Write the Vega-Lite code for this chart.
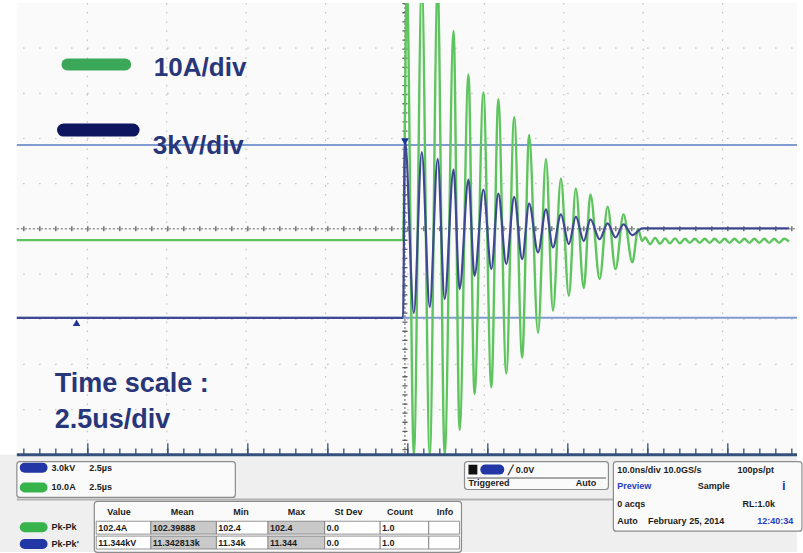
{
  "$schema": "https://vega.github.io/schema/vega-lite/v6.json",
  "width": 803,
  "height": 553,
  "autosize": {"type": "fit", "contains": "padding"},
  "padding": 0,
  "background": "#ffffff",
  "config": {"view": {"stroke": null}, "text": {"font": "Liberation Sans"}},
  "encoding": {
    "x": {"field": "t", "type": "quantitative", "scale": {"domain": [-12.75, 12.34375], "nice": false, "zero": false}, "axis": null},
    "y": {"field": "d", "type": "quantitative", "scale": {"domain": [-7.1538, 5], "nice": false, "zero": false}, "axis": null}
  },
  "layer": [
    {"data": {"values": [{"t": -12.22, "t2": 12.34375, "d": 5, "d2": -5}]},
     "mark": {"type": "rect", "color": "#fafafa"},
     "encoding": {"x2": {"field": "t2"}, "y2": {"field": "d2"}}},
    {"data": {"values": [{"t": -12.75, "t2": 12.34375, "d": -5, "d2": -7.1538}]},
     "mark": {"type": "rect", "color": "#efefef"},
     "encoding": {"x2": {"field": "t2"}, "y2": {"field": "d2"}}},
    {"data": {"values": [{"t": -10, "d": 5, "d2": -5}, {"t": -7.5, "d": 5, "d2": -5}, {"t": -5, "d": 5, "d2": -5}, {"t": -2.5, "d": 5, "d2": -5}, {"t": 2.5, "d": 5, "d2": -5}, {"t": 5, "d": 5, "d2": -5}, {"t": 7.5, "d": 5, "d2": -5}, {"t": 10, "d": 5, "d2": -5}]},
     "mark": {"type": "rule", "color": "#c2c2c2", "strokeWidth": 1.2, "strokeDash": [1.5, 7.6]},
     "encoding": {"y2": {"field": "d2"}}},
    {"data": {"values": [{"d": 4, "t": -12.22, "t2": 12.34375}, {"d": 3, "t": -12.22, "t2": 12.34375}, {"d": 2, "t": -12.22, "t2": 12.34375}, {"d": 1, "t": -12.22, "t2": 12.34375}, {"d": -1, "t": -12.22, "t2": 12.34375}, {"d": -2, "t": -12.22, "t2": 12.34375}, {"d": -3, "t": -12.22, "t2": 12.34375}, {"d": -4, "t": -12.22, "t2": 12.34375}]},
     "mark": {"type": "rule", "color": "#c2c2c2", "strokeWidth": 1.2, "strokeDash": [1.5, 14.5], "strokeDashOffset": 9.75},
     "encoding": {"x2": {"field": "t2"}}},
    {"data": {"values": [{"d": 0, "t": -12.22, "t2": 12.34375}]},
     "mark": {"type": "rule", "color": "#5e5e5e", "strokeWidth": 1, "strokeDash": [2, 2]},
     "encoding": {"x2": {"field": "t2"}}},
    {"data": {"values": [{"d": 0, "t": -12.22, "t2": 12.34375}]},
     "mark": {"type": "rule", "color": "#5e5e5e", "strokeWidth": 5, "strokeDash": [1.3, 14.7], "strokeDashOffset": 9.65},
     "encoding": {"x2": {"field": "t2"}}},
    {"data": {"values": [{"t": 0, "d": 5, "d2": -5}]},
     "mark": {"type": "rule", "color": "#5e5e5e", "strokeWidth": 1, "strokeDash": [2, 2]},
     "encoding": {"y2": {"field": "d2"}}},
    {"data": {"values": [{"t": 0, "d": 5, "d2": -5}]},
     "mark": {"type": "rule", "color": "#5e5e5e", "strokeWidth": 5, "strokeDash": [1.3, 7.8]},
     "encoding": {"y2": {"field": "d2"}}},
    {"data": {"values": [{"d": 1.857, "t": -12.22, "t2": 12.34375}, {"d": -1.967, "t": -12.22, "t2": 12.34375}]},
     "mark": {"type": "rule", "color": "#7f9bd0", "strokeWidth": 2},
     "encoding": {"x2": {"field": "t2"}}},
    {"data": {"values": [
      {"t": -12.22, "d": -0.25}, {"t": -0.06, "d": -0.25},
      {"t": 0.06, "d": 5.4}, {"t": 0.28, "d": -5}, {"t": 0.53, "d": 5.4}, {"t": 0.78, "d": -5},
      {"t": 1.03, "d": 5.4}, {"t": 1.25, "d": -5}, {"t": 1.53, "d": 4.38}, {"t": 1.72, "d": -4.45},
      {"t": 2.0, "d": 3.42}, {"t": 2.19, "d": -3.66}, {"t": 2.47, "d": 3.02}, {"t": 2.72, "d": -3.51},
      {"t": 2.94, "d": 2.87}, {"t": 3.19, "d": -3.2}, {"t": 3.44, "d": 2.47}, {"t": 3.69, "d": -2.85},
      {"t": 3.91, "d": 2.08}, {"t": 4.19, "d": -2.3}, {"t": 4.44, "d": 1.55}, {"t": 4.66, "d": -1.81},
      {"t": 4.91, "d": 1.11}, {"t": 5.16, "d": -1.48}, {"t": 5.38, "d": 0.89}, {"t": 5.63, "d": -1.31},
      {"t": 5.84, "d": 0.76}, {"t": 6.13, "d": -1.11}, {"t": 6.38, "d": 0.49}, {"t": 6.63, "d": -0.89},
      {"t": 6.88, "d": 0.32}, {"t": 7.16, "d": -0.74}, {"t": 7.34, "d": -0.01}, {"t": 7.47, "d": -0.27},
      {"t": 7.5625, "d": -0.19}, {"t": 7.71875, "d": -0.34}, {"t": 7.875, "d": -0.2}, {"t": 8.03125, "d": -0.33},
      {"t": 8.1875, "d": -0.21}, {"t": 8.34375, "d": -0.32}, {"t": 8.5, "d": -0.21}, {"t": 8.65625, "d": -0.32},
      {"t": 8.8125, "d": -0.22}, {"t": 8.96875, "d": -0.31}, {"t": 9.125, "d": -0.22}, {"t": 9.28125, "d": -0.31},
      {"t": 9.4375, "d": -0.22}, {"t": 9.59375, "d": -0.31}, {"t": 9.75, "d": -0.22}, {"t": 9.90625, "d": -0.31},
      {"t": 10.0625, "d": -0.22}, {"t": 10.21875, "d": -0.31}, {"t": 10.375, "d": -0.22}, {"t": 10.53125, "d": -0.31},
      {"t": 10.6875, "d": -0.22}, {"t": 10.84375, "d": -0.31}, {"t": 11.0, "d": -0.22}, {"t": 11.15625, "d": -0.31},
      {"t": 11.3125, "d": -0.22}, {"t": 11.46875, "d": -0.31}, {"t": 11.625, "d": -0.22}, {"t": 11.78125, "d": -0.31},
      {"t": 11.9375, "d": -0.22}, {"t": 12.09375, "d": -0.28}
     ]},
     "mark": {"type": "line", "interpolate": "monotone", "color": "#5ec45e", "strokeWidth": 2.4, "clip": true}},
    {"data": {"values": [
      {"t": -12.22, "d": -1.97}, {"t": -0.06, "d": -1.97}, {"t": 0.0, "d": 1.97},
      {"t": 0.28, "d": -1.86}, {"t": 0.53, "d": 1.7}, {"t": 0.78, "d": -1.73}, {"t": 1.03, "d": 1.55},
      {"t": 1.25, "d": -1.55}, {"t": 1.53, "d": 1.31}, {"t": 1.72, "d": -1.33}, {"t": 2.0, "d": 1.09},
      {"t": 2.19, "d": -1.04}, {"t": 2.47, "d": 0.87}, {"t": 2.72, "d": -0.89}, {"t": 2.94, "d": 0.78},
      {"t": 3.19, "d": -0.78}, {"t": 3.44, "d": 0.71}, {"t": 3.69, "d": -0.67}, {"t": 3.91, "d": 0.56},
      {"t": 4.19, "d": -0.52}, {"t": 4.44, "d": 0.43}, {"t": 4.66, "d": -0.41}, {"t": 4.91, "d": 0.32},
      {"t": 5.16, "d": -0.34}, {"t": 5.38, "d": 0.27}, {"t": 5.63, "d": -0.27}, {"t": 5.84, "d": 0.21},
      {"t": 6.13, "d": -0.23}, {"t": 6.38, "d": 0.12}, {"t": 6.63, "d": -0.19}, {"t": 6.88, "d": 0.1},
      {"t": 7.16, "d": -0.14}, {"t": 7.47, "d": 0.01}, {"t": 12.09375, "d": 0.01}
     ]},
     "mark": {"type": "line", "interpolate": "monotone", "color": "#3f4892", "strokeWidth": 2.2, "clip": true}},
    {"data": {"values": [{"d": -5, "t": -12.22, "t2": 12.34375}]},
     "mark": {"type": "rule", "color": "#34507c", "strokeWidth": 3},
     "encoding": {"x2": {"field": "t2"}}},
    {"data": {"values": [{"d": -4.93, "t": -12.22, "t2": 12.34375}]},
     "mark": {"type": "rule", "color": "#34507c", "strokeWidth": 6, "strokeDash": [1.3, 14.7], "strokeDashOffset": 9.65},
     "encoding": {"x2": {"field": "t2"}}},
    {"data": {"values": [{"d": -4.87, "t": -12.22, "t2": 12.34375}]},
     "mark": {"type": "rule", "color": "#34507c", "strokeWidth": 11, "strokeDash": [1.3, 78.7], "strokeDashOffset": 9.65},
     "encoding": {"x2": {"field": "t2"}}},
    {"data": {"values": [{"t": -10.34, "d": -2.077}, {"t": 1.22, "d": -6.63}]},
     "mark": {"type": "point", "shape": "triangle-up", "filled": true, "size": 55, "color": "#1e3399", "opacity": 1}},
    {"data": {"values": [{"t": 0.0, "d": 1.93}]},
     "mark": {"type": "point", "shape": "triangle-down", "filled": true, "size": 60, "color": "#1e3399", "opacity": 1}},
    {"data": {"values": [{"t": -10.625, "t2": -8.81, "d": 3.637}]},
     "mark": {"type": "rule", "color": "#3aa858", "strokeWidth": 12, "strokeCap": "round"},
     "encoding": {"x2": {"field": "t2"}}},
    {"data": {"values": [{"t": -10.75, "t2": -8.56, "d": 2.187}]},
     "mark": {"type": "rule", "color": "#0f1660", "strokeWidth": 13, "strokeCap": "round"},
     "encoding": {"x2": {"field": "t2"}}},
    {"data": {"values": [{"t": -7.906, "d": 3.374, "label": "10A/div"}, {"t": -7.94, "d": 1.659, "label": "3kV/div"}]},
     "mark": {"type": "text", "align": "left", "baseline": "alphabetic", "fontSize": 26, "fontWeight": "bold", "color": "#28367a"},
     "encoding": {"text": {"field": "label"}}},
    {"data": {"values": [{"t": -11.03, "d": -3.615, "label": "Time scale :"}, {"t": -11.03, "d": -4.407, "label": "2.5us/div"}]},
     "mark": {"type": "text", "align": "left", "baseline": "alphabetic", "fontSize": 27, "fontWeight": "bold", "color": "#28367a"},
     "encoding": {"text": {"field": "label"}}},
    {"data": {"values": [{"d": -5.989, "t": -12.22, "t2": 12.34375}]},
     "mark": {"type": "rule", "color": "#b3b3b3", "strokeWidth": 2},
     "encoding": {"x2": {"field": "t2"}}},
    {"data": {"values": [
      {"t": -12.22, "t2": -5.34, "d": -5.154, "d2": -5.945},
      {"t": 1.875, "t2": 6.406, "d": -5.154, "d2": -5.77},
      {"t": 6.5625, "t2": 12.5, "d": -5.154, "d2": -6.692},
      {"t": -9.78, "t2": 1.78, "d": -6.033, "d2": -7.16}
     ]},
     "mark": {"type": "rect", "color": "#fafafa", "stroke": "#8c8c8c", "strokeWidth": 1.2, "cornerRadius": 3},
     "encoding": {"x2": {"field": "t2"}, "y2": {"field": "d2"}}},
    {"data": {"values": [
      {"t": -9.72, "t2": -8.0, "d": -6.473, "d2": -6.758}, {"t": -5.94, "t2": -4.31, "d": -6.473, "d2": -6.758},
      {"t": -2.53, "t2": -0.78, "d": -6.473, "d2": -6.758}, {"t": -0.78, "t2": 0.75, "d": -6.473, "d2": -6.758},
      {"t": 0.75, "t2": 1.72, "d": -6.473, "d2": -6.758},
      {"t": -9.72, "t2": -8.0, "d": -6.802, "d2": -7.088}, {"t": -5.94, "t2": -4.31, "d": -6.802, "d2": -7.088},
      {"t": -2.53, "t2": -0.78, "d": -6.802, "d2": -7.088}, {"t": -0.78, "t2": 0.75, "d": -6.802, "d2": -7.088},
      {"t": 0.75, "t2": 1.72, "d": -6.802, "d2": -7.088}
     ]},
     "mark": {"type": "rect", "color": "#ffffff", "stroke": "#7a7a7a", "strokeWidth": 0.8},
     "encoding": {"x2": {"field": "t2"}, "y2": {"field": "d2"}}},
    {"data": {"values": [
      {"t": -8.0, "t2": -5.94, "d": -6.473, "d2": -6.758}, {"t": -4.31, "t2": -2.53, "d": -6.473, "d2": -6.758},
      {"t": -8.0, "t2": -5.94, "d": -6.802, "d2": -7.088}, {"t": -4.31, "t2": -2.53, "d": -6.802, "d2": -7.088}
     ]},
     "mark": {"type": "rect", "color": "#c9c9c9", "stroke": "#7a7a7a", "strokeWidth": 0.8},
     "encoding": {"x2": {"field": "t2"}, "y2": {"field": "d2"}}},
    {"data": {"values": [{"d": -5.516, "t": 1.95, "t2": 6.33}]},
     "mark": {"type": "rule", "color": "#555555", "strokeWidth": 1},
     "encoding": {"x2": {"field": "t2"}}},
    {"data": {"values": [{"t": 2.0, "t2": 2.28, "d": -5.22, "d2": -5.44}]},
     "mark": {"type": "rect", "color": "#111111"},
     "encoding": {"x2": {"field": "t2"}, "y2": {"field": "d2"}}},
    {"data": {"values": [{"t": -11.97, "t2": -11.41, "d": -5.286}, {"t": -11.97, "t2": -11.41, "d": -6.978}, {"t": 2.53, "t2": 2.97, "d": -5.33}]},
     "mark": {"type": "rule", "color": "#2236a6", "strokeWidth": 10, "strokeCap": "round"},
     "encoding": {"x2": {"field": "t2"}}},
    {"data": {"values": [{"t": -11.97, "t2": -11.41, "d": -5.725}, {"t": -11.97, "t2": -11.41, "d": -6.604}]},
     "mark": {"type": "rule", "color": "#36b34a", "strokeWidth": 10, "strokeCap": "round"},
     "encoding": {"x2": {"field": "t2"}}},
    {"data": {"values": [
      {"t": -11.125, "d": -5.286, "label": "3.0kV"}, {"t": -9.94, "d": -5.286, "label": "2.5µs"},
      {"t": -11.125, "d": -5.725, "label": "10.0A"}, {"t": -9.94, "d": -5.725, "label": "2.5µs"},
      {"t": -9.375, "d": -6.275, "label": "Value"}, {"t": -7.375, "d": -6.275, "label": "Mean"},
      {"t": -5.406, "d": -6.275, "label": "Min"}, {"t": -3.6875, "d": -6.275, "label": "Max"},
      {"t": -2.219, "d": -6.275, "label": "St Dev"}, {"t": -0.5625, "d": -6.275, "label": "Count"},
      {"t": 1.0, "d": -6.275, "label": "Info"},
      {"t": -11.125, "d": -6.604, "label": "Pk-Pk"}, {"t": -11.125, "d": -6.978, "label": "Pk-Pk'"},
      {"t": -9.656, "d": -6.615, "label": "102.4A"}, {"t": -7.94, "d": -6.615, "label": "102.39888"},
      {"t": -5.875, "d": -6.615, "label": "102.4"}, {"t": -4.25, "d": -6.615, "label": "102.4"},
      {"t": -2.47, "d": -6.615, "label": "0.0"}, {"t": -0.72, "d": -6.615, "label": "1.0"},
      {"t": -9.656, "d": -6.945, "label": "11.344kV"}, {"t": -7.94, "d": -6.945, "label": "11.342813k"},
      {"t": -5.875, "d": -6.945, "label": "11.34k"}, {"t": -4.25, "d": -6.945, "label": "11.344"},
      {"t": -2.47, "d": -6.945, "label": "0.0"}, {"t": -0.72, "d": -6.945, "label": "1.0"},
      {"t": 3.25, "d": -5.33, "label": "╱ 0.0V"}, {"t": 2.0, "d": -5.637, "label": "Triggered"},
      {"t": 5.375, "d": -5.637, "label": "Auto"},
      {"t": 6.6875, "d": -5.33, "label": "10.0ns/div  10.0GS/s"}, {"t": 10.47, "d": -5.33, "label": "100ps/pt"},
      {"t": 9.22, "d": -5.703, "label": "Sample"},
      {"t": 6.6875, "d": -6.099, "label": "0 acqs"}, {"t": 10.625, "d": -6.099, "label": "RL:1.0k"},
      {"t": 6.6875, "d": -6.473, "label": "Auto"}, {"t": 7.656, "d": -6.473, "label": "February 25, 2014"}
     ]},
     "mark": {"type": "text", "align": "left", "baseline": "middle", "fontSize": 9, "fontWeight": "bold", "color": "#1c1c1c"},
     "encoding": {"text": {"field": "label"}}},
    {"data": {"values": [{"t": 6.6875, "d": -5.703, "label": "Preview"}, {"t": 11.09, "d": -6.473, "label": "12:40:34"}]},
     "mark": {"type": "text", "align": "left", "baseline": "middle", "fontSize": 9, "fontWeight": "bold", "color": "#1f3cc4"},
     "encoding": {"text": {"field": "label"}}},
    {"data": {"values": [{"t": 11.875, "d": -5.703, "label": "i"}]},
     "mark": {"type": "text", "align": "left", "baseline": "middle", "fontSize": 13, "fontWeight": "bold", "color": "#1f3cc4"},
     "encoding": {"text": {"field": "label"}}}
  ]
}
